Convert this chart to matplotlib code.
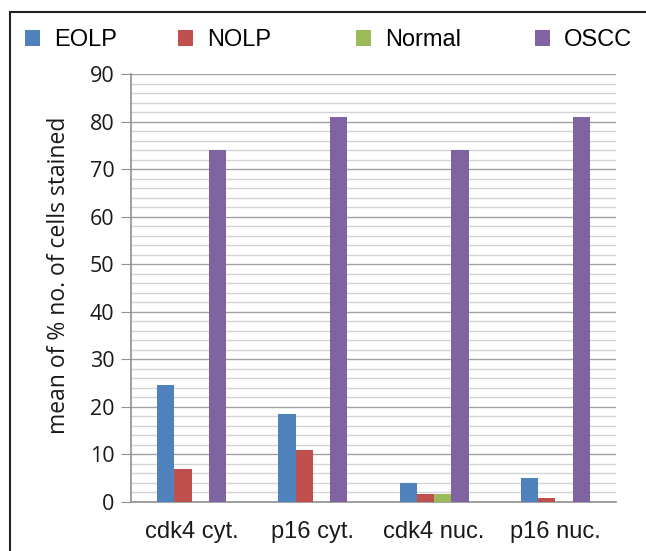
import numpy as np
import matplotlib.pyplot as plt
from matplotlib.patches import Rectangle
from matplotlib.ticker import MultipleLocator

plt.rcParams['font.family'] = ['Liberation Sans', 'DejaVu Sans']

categories = ['cdk4 cyt.', 'p16 cyt.', 'cdk4 nuc.', 'p16 nuc.']
series = ['EOLP', 'NOLP', 'Normal', 'OSCC']
eolp = [24.6, 18.6, 3.9, 5.1]
nolp = [7.0, 10.9, 1.6, 0.8]
normal = [0.0, 0.0, 1.6, 0.0]
oscc = [74.0, 81.0, 74.0, 81.0]
colors = ['#4F81BD', '#C0504D', '#9BBB59', '#8064A2']

W, H = 646, 551
fig = plt.figure(figsize=(W/100, H/100), dpi=100)
ax = fig.add_axes([131/W, 1-502/H, (616-131)/W, (502-74)/H])

x = np.arange(len(categories))
w = 0.142
bars = []
for i, (vals, name) in enumerate(zip([eolp, nolp, normal, oscc], series)):
    bars.append(ax.bar(x + (i - 1.5) * w, vals, w, color=colors[i], label=name, zorder=3))

ax.set_xlim(-0.5, 3.5)
ax.set_ylim(0, 90)
ax.yaxis.set_major_locator(MultipleLocator(10))
ax.yaxis.set_minor_locator(MultipleLocator(2))
ax.grid(axis='y', which='major', color='#a0a0a0', lw=1.0, zorder=0)
ax.grid(axis='y', which='minor', color='#d4d4d4', lw=1.0, zorder=0)
ax.set_xticks(x)
ax.set_xticklabels(categories, fontsize=17, color='#1a1a1a')
ax.tick_params(axis='x', length=0, pad=14)
ax.tick_params(axis='y', which='major', length=7, color='#909090', pad=5,
               labelsize=15.5, labelcolor='#1a1a1a')
ax.tick_params(axis='y', which='minor', length=0)
for lab in ax.get_yticklabels():
    lab.set_family(['Open Sans', 'DejaVu Sans'])
for s in ['top', 'right']:
    ax.spines[s].set_visible(False)
for s in ['left', 'bottom']:
    ax.spines[s].set_color('#909090')
    ax.spines[s].set_linewidth(1.2)
ax.set_ylabel('mean of % no. of cells stained', fontsize=16.5, color='#1a1a1a',
              family=['Open Sans', 'DejaVu Sans'])
ax.yaxis.set_label_coords(-0.124, 0.53)

# legend entries sit in fixed slots across the top, like the original
slots = [25, 178, 356, 535]
for b, name, sx in zip(bars, series, slots):
    fig.legend([b], [name], loc='center left', bbox_to_anchor=(sx/W, 1-40/H),
               frameon=False, fontsize=17, borderpad=0, borderaxespad=0,
               handlelength=0.64, handleheight=0.64, handletextpad=0.6)

fig.patches.append(Rectangle((10/W, -0.01), 1.0, 1-12/H + 0.01, transform=fig.transFigure,
                             fill=False, edgecolor='#222222', lw=1.5))

fig.savefig('out.png', dpi=100)
